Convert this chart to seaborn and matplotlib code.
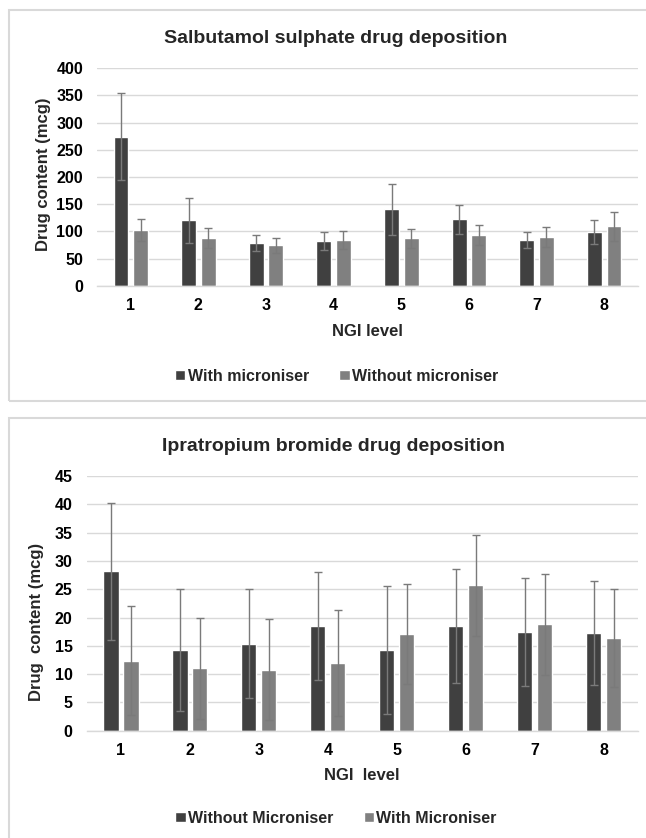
import matplotlib
matplotlib.use("Agg")
import matplotlib.pyplot as plt
from matplotlib.patches import Rectangle, Patch
import seaborn as sns
import pandas as pd

# ---- data ----
levels = ["1", "2", "3", "4", "5", "6", "7", "8"]

salb_labels = ["With microniser", "Without microniser"]
salb_with = [274, 120, 78.5, 82, 141, 122, 84, 98]
salb_with_sd = [80, 42, 14, 16, 47, 26, 15, 22]
salb_without = [102.5, 88, 74, 84, 87, 93, 89.5, 109]
salb_without_sd = [20, 18, 14, 16, 17, 19, 19, 26]

ipra_labels = ["Without Microniser", "With Microniser"]
ipra_without = [28.2, 14.2, 15.4, 18.5, 14.2, 18.5, 17.4, 17.3]
ipra_without_sd = [12.1, 10.8, 9.6, 9.6, 11.3, 10.1, 9.5, 9.2]
ipra_with = [12.4, 11.0, 10.8, 12.0, 17.1, 25.7, 18.8, 16.4]
ipra_with_sd = [9.6, 9.0, 8.9, 9.4, 8.9, 8.9, 8.9, 8.7]

dark = "#404040"
light = "#808080"

sns.set_theme(style="white")
plt.rcParams["font.family"] = ["Liberation Sans", "DejaVu Sans"]
plt.rcParams["font.weight"] = "bold"

W, H = 646, 838
fig = plt.figure(figsize=(W / 100, H / 100), dpi=100)


def px_axes(left, top, right, bottom):
    return [left / W, 1 - bottom / H, (right - left) / W, (bottom - top) / H]


def draw_panel(ax, series_a, sd_a, series_b, sd_b, labels, ymax, ystep,
               title, xlabel, ylabel, title_xy, xlabel_xy, ylabel_xy, legend_xy):
    df = pd.DataFrame({
        "level": levels * 2,
        "value": list(series_a) + list(series_b),
        "group": [labels[0]] * len(levels) + [labels[1]] * len(levels),
    })
    sns.barplot(data=df, x="level", y="value", hue="group", hue_order=labels,
                order=levels, palette=[dark, light], width=0.58, gap=0.24,
                errorbar=None, saturation=1, ax=ax, legend=False, zorder=2)
    for cont, sds in zip(ax.containers, [sd_a, sd_b]):
        xs = [b.get_x() + b.get_width() / 2 for b in cont]
        ys = [b.get_height() for b in cont]
        ax.errorbar(xs, ys, yerr=sds, fmt="none", ecolor="#7a7a7a",
                    elinewidth=1.0, capsize=3, capthick=1.0, zorder=3)
    ax.set_xlim(-0.5, len(levels) - 0.5)
    ax.set_ylim(0, ymax)
    ax.set_yticks(range(0, ymax + 1, ystep))
    ax.yaxis.grid(True, color="#d9d9d9", linewidth=1.0, zorder=0)
    ax.set_axisbelow(True)
    for s in ["top", "right", "left"]:
        ax.spines[s].set_visible(False)
    ax.spines["bottom"].set_color("#d9d9d9")
    ax.spines["bottom"].set_linewidth(1.0)
    ax.tick_params(axis="both", length=0, labelsize=11.5, colors="black")
    ax.tick_params(axis="y", pad=10)
    ax.tick_params(axis="x", pad=9)
    for t in ax.get_xticklabels() + ax.get_yticklabels():
        t.set_fontweight("bold")
    ax.set_title(title, fontsize=14, fontweight="bold", x=title_xy[0], y=title_xy[1],
                 va="center", pad=0)
    ax.set_xlabel(xlabel, fontsize=12, fontweight="bold")
    ax.xaxis.label.set_va("center")
    ax.xaxis.set_label_coords(*xlabel_xy)
    ax.set_ylabel(ylabel, fontsize=12, fontweight="bold")
    ax.yaxis.label.set_va("center")
    ax.yaxis.set_label_coords(*ylabel_xy)
    handles = [Patch(facecolor=dark), Patch(facecolor=light)]
    ax.legend(handles, labels, loc="center", bbox_to_anchor=legend_xy, ncol=2,
              frameon=False, handlelength=0.65, handleheight=0.65,
              handletextpad=0.15, columnspacing=1.9,
              prop={"weight": "bold", "size": 11.5})


# top panel
ax1 = fig.add_axes(px_axes(97, 68.3, 638, 285.7))
draw_panel(ax1, salb_with, salb_with_sd, salb_without, salb_without_sd, salb_labels,
           400, 50, "Salbutamol sulphate drug deposition", "NGI level", "Drug content (mcg)",
           title_xy=(0.442, 1.138), xlabel_xy=(0.5, -0.21), ylabel_xy=(-0.0998, 0.514),
           legend_xy=((336.5 - 97) / 541, (285.7 - 376) / 217.4))

# bottom panel
ax2 = fig.add_axes(px_axes(86.5, 476, 638, 730.7))
draw_panel(ax2, ipra_without, ipra_without_sd, ipra_with, ipra_with_sd, ipra_labels,
           45, 5, "Ipratropium bromide drug deposition", "NGI  level", "Drug  content (mcg)",
           title_xy=(0.447, 1.117), xlabel_xy=(0.50, -0.176), ylabel_xy=(-0.0898, 0.428),
           legend_xy=((336 - 86.5) / 551.5, (730.7 - 818) / 254.7))

# panel borders
fig.add_artist(Rectangle((8.5 / W, 1 - 401 / H), 700 / W, 391 / H, transform=fig.transFigure,
                         fill=False, edgecolor="#d9d9d9", linewidth=1.5))
fig.add_artist(Rectangle((8.5 / W, 1 - 860 / H), 700 / W, 442 / H, transform=fig.transFigure,
                         fill=False, edgecolor="#d9d9d9", linewidth=1.5))

fig.savefig("out.png", dpi=100, facecolor="white")
